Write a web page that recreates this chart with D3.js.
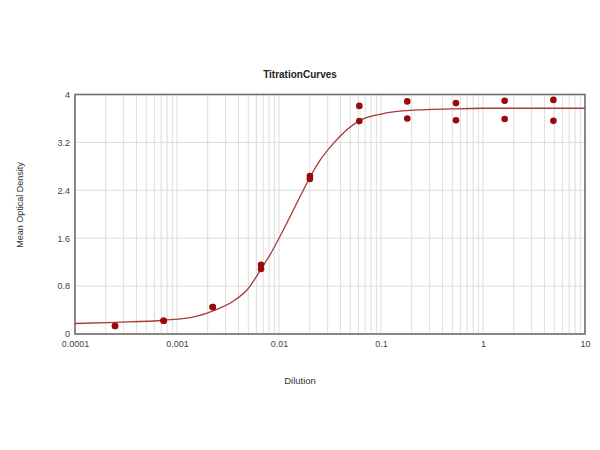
<!DOCTYPE html>
<html>
<head>
<meta charset="utf-8">
<script src="https://cdn.jsdelivr.net/npm/d3@7"></script>
<style>
  html, body { margin: 0; padding: 0; background: #fff; }
  svg { display: block; font-family: "Liberation Sans", Arial, sans-serif; }
</style>
</head>
<body>
<svg id="chart" width="600" height="450"></svg>
<script>
// ---- data ----
const dilutions = [0.000247, 0.00074, 0.00224, 0.00667, 0.0201, 0.0613, 0.181, 0.543, 1.63, 4.9];
const replicate1 = [0.134, 0.222, 0.45, 1.157, 2.64, 3.81, 3.885, 3.856, 3.895, 3.91];
const replicate2 = [0.134, 0.222, 0.45, 1.085, 2.59, 3.556, 3.60, 3.57, 3.59, 3.56];

// fitted curve
const curveDilution = [0.0001, 0.00025, 0.00075, 0.0015, 0.00236, 0.00371, 0.005, 0.00676, 0.00847, 0.01, 0.0173, 0.0203, 0.0252, 0.034, 0.0608, 0.105, 0.178, 0.5, 1, 10];
const curveOD = [0.175, 0.195, 0.23, 0.29, 0.40, 0.568, 0.76, 1.10, 1.37, 1.6, 2.4, 2.63, 2.9, 3.18, 3.56, 3.68, 3.73, 3.76, 3.77, 3.77];

const xTickValues = [0.0001, 0.001, 0.01, 0.1, 1, 10];
const xTickLabels = ["0.0001", "0.001", "0.01", "0.1", "1", "10"];
const yTickValues = [0, 0.8, 1.6, 2.4, 3.2, 4];
const yTickLabels = ["0", "0.8", "1.6", "2.4", "3.2", "4"];

const titleText = "TitrationCurves";
const xTitle = "Dilution";
const yTitle = "Mean Optical Density";

// ---- layout ----
const svg = d3.select("#chart");
const L = 75, R = 585, T = 94.5, B = 334;

const x = d3.scaleLog().domain([0.0001, 10]).range([L, R]);
const y = d3.scaleLinear().domain([0, 4]).range([B, T]);

// minor vertical gridlines 1..9 per decade
const gridX = [];
for (let e = -4; e <= 0; e++) {
  for (let m = 1; m <= 9; m++) gridX.push(m * Math.pow(10, e));
}
gridX.push(10);

const g = svg.append("g");

g.selectAll("line.vgrid").data(gridX).join("line")
  .attr("class", "vgrid")
  .attr("x1", d => x(d)).attr("x2", d => x(d))
  .attr("y1", T).attr("y2", B)
  .attr("stroke", "#dcdcdc").attr("stroke-width", 1);

g.selectAll("line.hgrid").data(yTickValues).join("line")
  .attr("class", "hgrid")
  .attr("x1", L).attr("x2", R)
  .attr("y1", d => y(d)).attr("y2", d => y(d))
  .attr("stroke", "#dcdcdc").attr("stroke-width", 1);

// axes (labels only, frame drawn separately)
const xAxis = d3.axisBottom(x).tickValues(xTickValues)
  .tickFormat((d, i) => xTickLabels[i]).tickSize(0).tickPadding(7);
const xg = svg.append("g").attr("transform", `translate(0,${B})`).call(xAxis);
xg.select(".domain").remove();
xg.selectAll("text").attr("font-size", 9).attr("fill", "#444")
  .attr("font-family", "'Liberation Sans', Arial, sans-serif");

const yAxis = d3.axisLeft(y).tickValues(yTickValues)
  .tickFormat((d, i) => yTickLabels[i]).tickSize(0).tickPadding(5);
const yg = svg.append("g").attr("transform", `translate(${L},0)`).call(yAxis);
yg.select(".domain").remove();
yg.selectAll("text").attr("font-size", 9).attr("fill", "#444")
  .attr("font-family", "'Liberation Sans', Arial, sans-serif");

// frame
svg.append("rect")
  .attr("x", L).attr("y", T).attr("width", R - L).attr("height", B - T)
  .attr("fill", "none").attr("stroke", "#6e6e6e").attr("stroke-width", 1.6);

// curve
const curvePts = curveDilution.map((d, i) => [d, curveOD[i]]);
const line = d3.line().x(d => x(d[0])).y(d => y(d[1])).curve(d3.curveMonotoneX);
svg.append("path").datum(curvePts)
  .attr("d", line)
  .attr("fill", "none").attr("stroke", "#a83a3a").attr("stroke-width", 1.3);

// points
const pts = [];
dilutions.forEach((d, i) => { pts.push([d, replicate1[i]]); pts.push([d, replicate2[i]]); });
svg.selectAll("circle.pt").data(pts).join("circle")
  .attr("class", "pt")
  .attr("cx", d => x(d[0])).attr("cy", d => y(d[1]))
  .attr("r", 3.3).attr("fill", "#990a0a");

// titles
svg.append("text").attr("x", 300).attr("y", 77.5).attr("text-anchor", "middle")
  .attr("font-size", 10).attr("font-weight", "bold").attr("fill", "#222").text(titleText);

svg.append("text").attr("x", 300).attr("y", 384).attr("text-anchor", "middle")
  .attr("font-size", 9.5).attr("fill", "#333").text(xTitle);

svg.append("text").attr("transform", "translate(23,205) rotate(-90)")
  .attr("text-anchor", "middle")
  .attr("font-size", 9).attr("fill", "#333").text(yTitle);
</script>
</body>
</html>
